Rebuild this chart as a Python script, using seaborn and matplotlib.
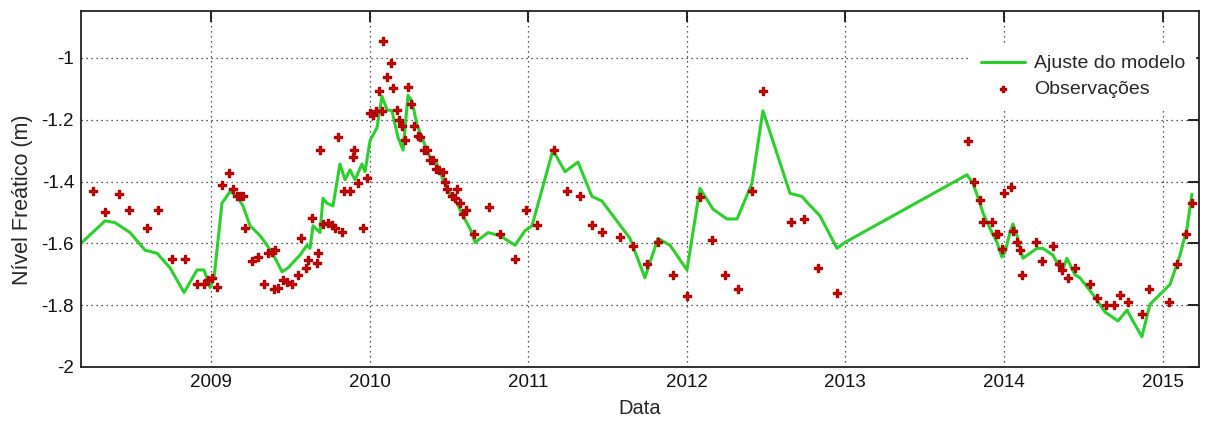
import matplotlib
matplotlib.use("Agg")
import matplotlib.pyplot as plt
import pandas as pd
import seaborn as sns

# Modelled water-table level (decimal year, metres)
model_year = [
    2008.180, 2008.332, 2008.395, 2008.489, 2008.584, 2008.660, 2008.741, 2008.830,
    2008.912, 2008.956, 2008.994, 2009.019, 2009.069, 2009.120, 2009.164, 2009.202,
    2009.246, 2009.309, 2009.353, 2009.404, 2009.448, 2009.486, 2009.542, 2009.561,
    2009.605, 2009.624, 2009.643, 2009.687, 2009.706, 2009.731, 2009.769, 2009.813,
    2009.845, 2009.876, 2009.908, 2009.952, 2009.971, 2010.003, 2010.047, 2010.078,
    2010.110, 2010.141, 2010.179, 2010.211, 2010.242, 2010.267, 2010.299, 2010.337,
    2010.381, 2010.425, 2010.463, 2010.507, 2010.551, 2010.589, 2010.633, 2010.665,
    2010.747, 2010.822, 2010.917, 2010.980, 2011.024, 2011.156, 2011.232, 2011.314,
    2011.402, 2011.465, 2011.535, 2011.642, 2011.736, 2011.818, 2011.894, 2012.001,
    2012.083, 2012.165, 2012.253, 2012.317, 2012.411, 2012.480, 2012.556, 2012.651,
    2012.726, 2012.764, 2012.840, 2012.947, 2012.997, 2013.767, 2013.805, 2013.849,
    2013.868, 2013.912, 2013.956, 2013.987, 2014.006, 2014.038, 2014.057, 2014.082,
    2014.120, 2014.208, 2014.246, 2014.309, 2014.366, 2014.397, 2014.448, 2014.479,
    2014.561, 2014.637, 2014.719, 2014.776, 2014.813, 2014.870, 2014.921, 2014.984,
    2015.047, 2015.110, 2015.154, 2015.185,
]
model_level = [
    -1.600, -1.527, -1.533, -1.565, -1.622, -1.632, -1.679, -1.759,
    -1.686, -1.686, -1.743, -1.711, -1.470, -1.432, -1.448, -1.479,
    -1.543, -1.575, -1.606, -1.648, -1.692, -1.679, -1.648, -1.638,
    -1.606, -1.616, -1.543, -1.565, -1.454, -1.470, -1.479, -1.343,
    -1.394, -1.362, -1.394, -1.343, -1.368, -1.267, -1.225, -1.124,
    -1.168, -1.171, -1.257, -1.298, -1.121, -1.140, -1.216, -1.267,
    -1.321, -1.343, -1.394, -1.438, -1.470, -1.511, -1.552, -1.597,
    -1.565, -1.575, -1.606, -1.559, -1.543, -1.298, -1.368, -1.337,
    -1.448, -1.463, -1.511, -1.584, -1.711, -1.584, -1.606, -1.686,
    -1.422, -1.489, -1.521, -1.521, -1.406, -1.171, -1.289, -1.438,
    -1.448, -1.470, -1.511, -1.616, -1.597, -1.378, -1.406, -1.470,
    -1.502, -1.552, -1.597, -1.644, -1.629, -1.565, -1.537, -1.575,
    -1.648, -1.616, -1.616, -1.638, -1.692, -1.648, -1.702, -1.711,
    -1.765, -1.822, -1.851, -1.816, -1.851, -1.902, -1.797, -1.765,
    -1.733, -1.638, -1.552, -1.441,
]

# Observed water-table level (decimal year, metres)
obs_year = [
    2008.256, 2008.332, 2008.420, 2008.483, 2008.596, 2008.666, 2008.754, 2008.836,
    2008.912, 2008.956, 2008.981, 2009.006, 2009.038, 2009.069, 2009.113, 2009.139,
    2009.164, 2009.183, 2009.202, 2009.214, 2009.259, 2009.296, 2009.334, 2009.359,
    2009.385, 2009.404, 2009.397, 2009.422, 2009.454, 2009.479, 2009.511, 2009.549,
    2009.567, 2009.599, 2009.612, 2009.637, 2009.668, 2009.675, 2009.687, 2009.706,
    2009.738, 2009.763, 2009.782, 2009.801, 2009.826, 2009.839, 2009.876, 2009.895,
    2009.902, 2009.927, 2009.958, 2009.984, 2010.003, 2010.022, 2010.040, 2010.059,
    2010.078, 2010.084, 2010.110, 2010.135, 2010.148, 2010.173, 2010.185, 2010.204,
    2010.223, 2010.242, 2010.261, 2010.280, 2010.305, 2010.318, 2010.343, 2010.362,
    2010.381, 2010.400, 2010.419, 2010.438, 2010.463, 2010.475, 2010.488, 2010.520,
    2010.538, 2010.551, 2010.570, 2010.589, 2010.608, 2010.658, 2010.753, 2010.822,
    2010.917, 2010.986, 2011.056, 2011.163, 2011.245, 2011.327, 2011.402, 2011.465,
    2011.579, 2011.661, 2011.749, 2011.818, 2011.913, 2012.001, 2012.083, 2012.159,
    2012.241, 2012.323, 2012.411, 2012.480, 2012.657, 2012.739, 2012.827, 2012.947,
    2013.773, 2013.811, 2013.849, 2013.868, 2013.924, 2013.950, 2013.962, 2013.987,
    2014.000, 2014.044, 2014.057, 2014.082, 2014.101, 2014.114, 2014.202, 2014.240,
    2014.309, 2014.347, 2014.366, 2014.404, 2014.448, 2014.542, 2014.586, 2014.643,
    2014.694, 2014.731, 2014.782, 2014.870, 2014.914, 2015.040, 2015.091, 2015.148,
    2015.185,
]
obs_level = [
    -1.429, -1.498, -1.441, -1.492, -1.549, -1.492, -1.651, -1.651,
    -1.730, -1.730, -1.717, -1.711, -1.740, -1.410, -1.371, -1.425,
    -1.448, -1.448, -1.448, -1.549, -1.657, -1.644, -1.730, -1.632,
    -1.629, -1.622, -1.746, -1.743, -1.717, -1.724, -1.733, -1.702,
    -1.584, -1.679, -1.654, -1.517, -1.663, -1.632, -1.298, -1.537,
    -1.533, -1.540, -1.549, -1.257, -1.562, -1.429, -1.429, -1.321,
    -1.298, -1.403, -1.549, -1.387, -1.178, -1.184, -1.171, -1.108,
    -1.171, -0.946, -1.060, -1.016, -1.098, -1.168, -1.200, -1.219,
    -1.267, -1.095, -1.149, -1.219, -1.251, -1.257, -1.298, -1.298,
    -1.330, -1.330, -1.359, -1.362, -1.368, -1.400, -1.425, -1.448,
    -1.454, -1.425, -1.470, -1.505, -1.492, -1.571, -1.483, -1.571,
    -1.651, -1.492, -1.540, -1.298, -1.429, -1.448, -1.540, -1.562,
    -1.578, -1.610, -1.667, -1.597, -1.702, -1.771, -1.451, -1.590,
    -1.702, -1.749, -1.429, -1.108, -1.530, -1.521, -1.679, -1.759,
    -1.270, -1.400, -1.460, -1.530, -1.530, -1.571, -1.571, -1.619,
    -1.438, -1.419, -1.559, -1.597, -1.622, -1.702, -1.597, -1.657,
    -1.610, -1.667, -1.686, -1.711, -1.679, -1.733, -1.778, -1.800,
    -1.800, -1.768, -1.790, -1.829, -1.746, -1.790, -1.667, -1.571,
    -1.470,
]

year_ticks = [2009, 2010, 2011, 2012, 2013, 2014, 2015]
level_ticks = [-2.0, -1.8, -1.6, -1.4, -1.2, -1.0]
level_tick_labels = ["-2", "-1.8", "-1.6", "-1.4", "-1.2", "-1"]

model = pd.DataFrame({"ano": model_year, "nivel": model_level})
obs = pd.DataFrame({"ano": obs_year, "nivel": obs_level})

sns.set_theme(style="white")
plt.rcParams["font.family"] = ["Liberation Sans", "DejaVu Sans"]

fig = plt.figure(figsize=(12.08, 4.26), dpi=100)
ax = fig.add_axes([0.06705, 0.1385, 0.9255, 0.8357])

sns.lineplot(data=model, x="ano", y="nivel", ax=ax, color="#2ccf2c",
             linewidth=2.2, estimator=None, sort=False,
             label="Ajuste do modelo", zorder=2)
sns.scatterplot(data=obs, x="ano", y="nivel", ax=ax, marker="P", s=30,
                color="#c81212", edgecolor="#b00000", linewidth=1.0,
                label="Observações", zorder=3)

ax.set_xlim(2008.18, 2015.23)
ax.set_ylim(-2.0, -0.848)
ax.set_xticks(year_ticks)
ax.set_xticklabels([str(y) for y in year_ticks])
ax.set_yticks(level_ticks)
ax.set_yticklabels(level_tick_labels)

ax.grid(True, color="#222222", linestyle=(0, (1, 3)), linewidth=0.9)
ax.set_axisbelow(True)
ax.tick_params(direction="in", length=8, width=1.3, top=True, right=True,
               labelsize=13.5, pad=5, colors="#111111")
for sp in ax.spines.values():
    sp.set_color("#222222")
    sp.set_linewidth(1.3)

ax.set_xlabel("Data", fontsize=14.5, labelpad=6)
ax.set_ylabel("Nível Freático (m)", fontsize=15.5)
ax.yaxis.set_label_coords(-0.043, 0.47)

leg = ax.legend(loc="upper right", bbox_to_anchor=(0.9964, 0.9045),
                borderaxespad=0, borderpad=0.5, frameon=True, fontsize=14,
                handlelength=2.3, handletextpad=0.45, labelspacing=0.4,
                fancybox=False, framealpha=1, markerscale=0.8)
leg.get_frame().set_edgecolor("white")
leg.get_frame().set_facecolor("white")

fig.savefig("out.png", dpi=100)
